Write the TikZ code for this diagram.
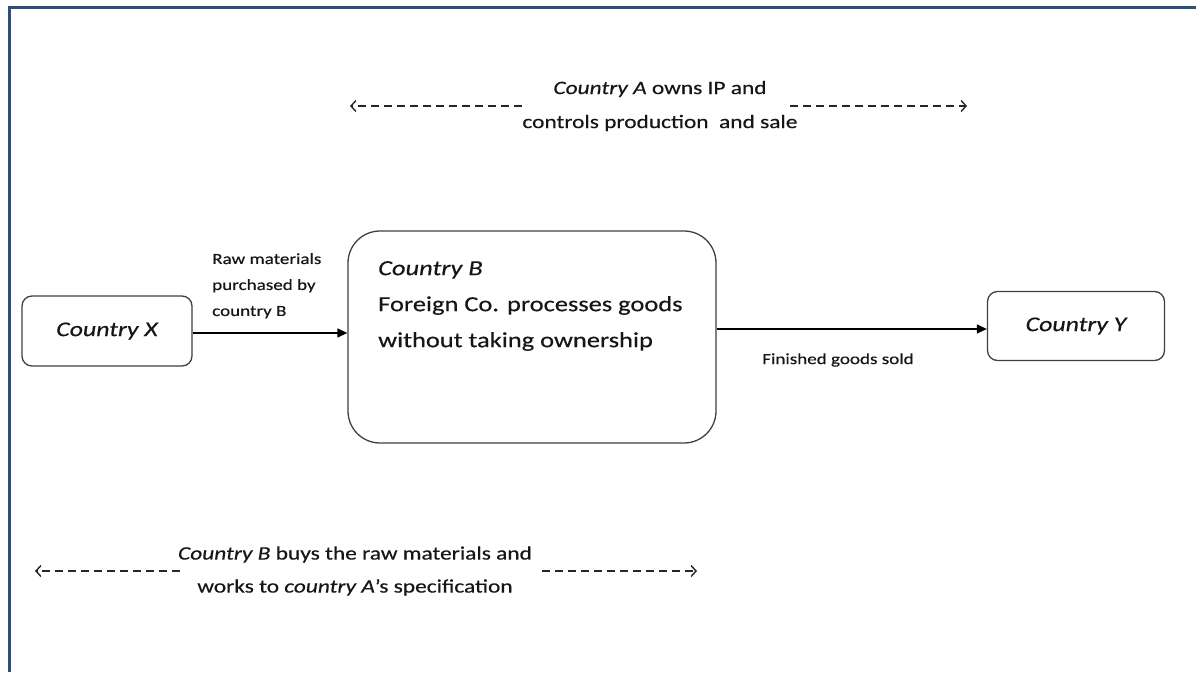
\documentclass[tikz,border=0pt]{standalone}
\usepackage{fontspec}
\setmainfont[FakeStretch=1.23, FakeBold=0.4]{Carlito}
\usetikzlibrary{arrows.meta, positioning}
\definecolor{framecol}{RGB}{52,78,110}
\definecolor{inkcol}{RGB}{22,22,22}
\tikzset{%
>={Triangle[length=10pt,width=9pt]},
  % Specifications for style of nodes:
            box/.style = {rectangle, rounded corners=10pt, draw=black!75,
                            line width=1.3pt, fill=white, text=inkcol,
                            font=\fontsize{21}{25}\selectfont\itshape},
            lbl/.style = {inner sep=0pt, align=left, text=inkcol,
                            font=\fontsize{15.5}{26}\selectfont},
            note/.style = {inner sep=0pt, align=center, text=inkcol,
                            font=\fontsize{19}{34}\selectfont},
            dashlink/.style = {draw=black!85, line width=1.4pt,
                            dash pattern=on 8pt off 5pt,
                            -{Straight Barb[length=5pt,width=11pt,line width=1.4pt]}},
            link/.style = {draw=black, line width=1.3pt, ->},
            frameline/.style = {draw=framecol, line width=3pt}
}
\begin{document}
\begin{tikzpicture}[x=1pt, y=-1pt]
                \useasboundingbox (0,0) rectangle (1196,672);
                \draw[frameline] (8,7) -- (1196,7);
                \draw[frameline] (9.5,7) -- (9.5,672);

                % the three countries
                \node[box, minimum width=170pt, minimum height=70pt] (cx) at (107,331) {Country X};
                \node[box, rounded corners=32pt, minimum width=368pt, minimum height=212pt] (cb) at (532,337) {};
                \node[lbl, anchor=north west, font=\fontsize{21.5}{36}\selectfont] (cbtxt) at (378,261)
                    {\textit{Country B}\\Foreign Co. processes goods\\without taking ownership};
                \node[box, minimum width=177pt, minimum height=69pt] (cy) at (1076,326) {Country Y\hspace{10pt}};

                \draw[link] ([yshift=-2pt]cx.east) -- ([yshift=-2pt]cx.east -| cb.west);
                \draw[link] ([yshift=-3pt]cb.east |- cy.west) -- ([yshift=-3pt]cy.west);
                \node[lbl, anchor=north west] (rawlbl) at (212,253) {Raw materials\\purchased by\\country B};
                \node[lbl] (soldlbl) at (838,360) {Finished goods sold};

                % who owns and who works
                \node[note] (ownA) at (660,106) {\textit{Country A} owns IP and\\controls production\ \ and sale};
                \coordinate (ownAl) at (350,105);
                \coordinate (ownAr) at (967,105);
                \draw[dashlink] (ownA.west) -- (ownA.west -| ownAl);
                \draw[dashlink] ([xshift=-8pt]ownA.east) -- (ownA.east -| ownAr);

                \node[note, font=\fontsize{19}{33}\selectfont] (buysB) at (355,571)
                    {\textit{Country B} buys the raw materials and\\works to \textit{country A}'s specification};
                \coordinate (buysBl) at (35,572);
                \coordinate (buysBr) at (697,572);
                \draw[dashlink] ([xshift=2pt]buysB.west) -- (buysB.west -| buysBl);
                \draw[dashlink] ([xshift=10pt]buysB.east) -- (buysB.east -| buysBr);

            \end{tikzpicture}
\end{document}
